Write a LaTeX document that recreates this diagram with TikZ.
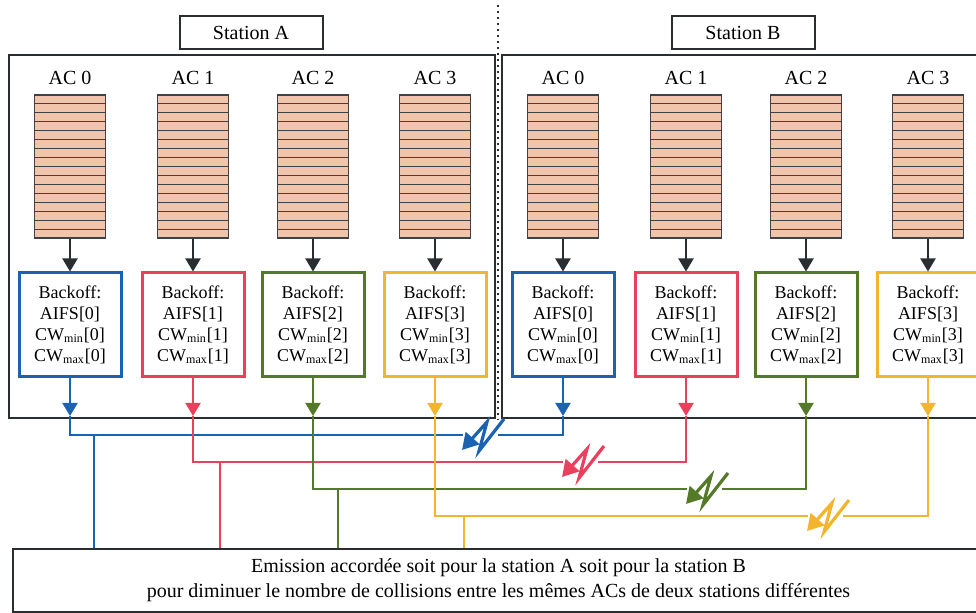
\documentclass[tikz,border=0pt]{standalone}
\usepackage{fontspec}
\setmainfont{Liberation Serif}
\usetikzlibrary{arrows.meta,calc}

\definecolor{acbleu}{RGB}{28,98,178}
\definecolor{acrouge}{RGB}{234,64,94}
\definecolor{acvert}{RGB}{84,122,40}
\definecolor{acjaune}{RGB}{243,180,46}
\definecolor{filecol}{RGB}{241,196,172}
\definecolor{trait}{RGB}{42,46,48}

\tikzset{
  cadre/.style={draw=trait, line width=1pt},
  etiquette/.style={cadre, minimum width=71.5pt, minimum height=16.5pt, inner sep=0pt, font=\fontsize{10}{12}\selectfont},
  acnom/.style={inner sep=0pt, font=\fontsize{10}{12}\selectfont},
  filebox/.style={draw=trait!90, fill=filecol, line width=0.6pt, minimum width=35.5pt, minimum height=71.5pt, inner sep=0pt},
  raie/.style={draw=trait!90, line width=0.6pt},
  backoff/.style={draw=#1, line width=1.5pt, fill=white, minimum width=51pt, minimum height=52pt, inner sep=0pt, align=center, font=\fontsize{9}{10.5}\selectfont},
  fleche/.style={-{Triangle[width=7.5pt,length=6.5pt]}, line width=1pt},
  liaison/.style={draw=#1, line width=1.2pt},
  collision/.style={draw=#1, line width=1.6pt, line join=miter, -{Triangle[width=9pt,length=8pt]}},
}

\begin{document}
\begin{tikzpicture}[x=0.5pt,y=-0.5pt]
    \useasboundingbox (0,0) rectangle (976,613);
    \clip (0,0) rectangle (976,613);

    % stations
    \node[etiquette] (stA) at (251,32.5) {Station A};
    \node[etiquette] (stB) at (743,32.5) {Station B};
    \draw[cadre] (9,55) rectangle (494.5,418);
    \draw[cadre] (501.5,55) rectangle (990,418);
    \draw[trait, line width=1pt, dotted] (498,5) -- (498,420);

    % files d'attente et backoff
    \foreach \st/\dx in {A/0,B/493} {
      \foreach \k/\xc/\col in {0/70/acbleu,1/193/acrouge,2/313/acvert,3/435/acjaune} {
        \node[acnom] (ac\st\k) at (\xc+\dx,78) {AC \k};
        \node[filebox] (q\st\k) at (\xc+\dx,166.5) {};
        \foreach \r in {1,...,15}
          \draw[raie] ($(q\st\k.north west)!\r/16!(q\st\k.south west)$) -- ($(q\st\k.north east)!\r/16!(q\st\k.south east)$);
        \node[backoff=\col] (b\st\k) at (\xc+\dx,325) {Backoff:\\AIFS[\k]\\CW\textsubscript{min}[\k]\\CW\textsubscript{max}[\k]};
        \draw[fleche, trait] (q\st\k) -- (b\st\k);
        \coordinate (s\st\k) at (\xc+\dx,416);
        \draw[fleche, \col] (b\st\k) -- (s\st\k);
      }
    }

    % emission
    \node[cadre, minimum width=485.5pt, minimum height=31.5pt, align=center, inner sep=0pt,
          font=\fontsize{10}{12.5}\selectfont] (em) at (498.5,580.5)
      {Emission accordée soit pour la station A soit pour la station B\\
       pour diminuer le nombre de collisions entre les mêmes ACs de deux stations différentes};

    % liaisons et collisions
    \foreach \k/\col/\niv/\desc/\cx in {0/acbleu/435/94/485,1/acrouge/462/220/585,2/acvert/489/338/709,3/acjaune/516/464/830} {
      \coordinate (g\k) at (\cx-22,\niv);
      \coordinate (d\k) at (\cx+13,\niv);
      \coordinate (e\k) at (\desc,\niv);
      \draw[liaison=\col] (sA\k) |- (g\k);
      \draw[liaison=\col] (sB\k) |- (d\k);
      \draw[liaison=\col] (e\k) -- (e\k |- em.north);
      \draw[collision=\col] (\cx+19,\niv-16) -- (\cx-6,\niv+16) -- (\cx+2,\niv-13) -- (\cx-23,\niv+15);
    }
\end{tikzpicture}
\end{document}
